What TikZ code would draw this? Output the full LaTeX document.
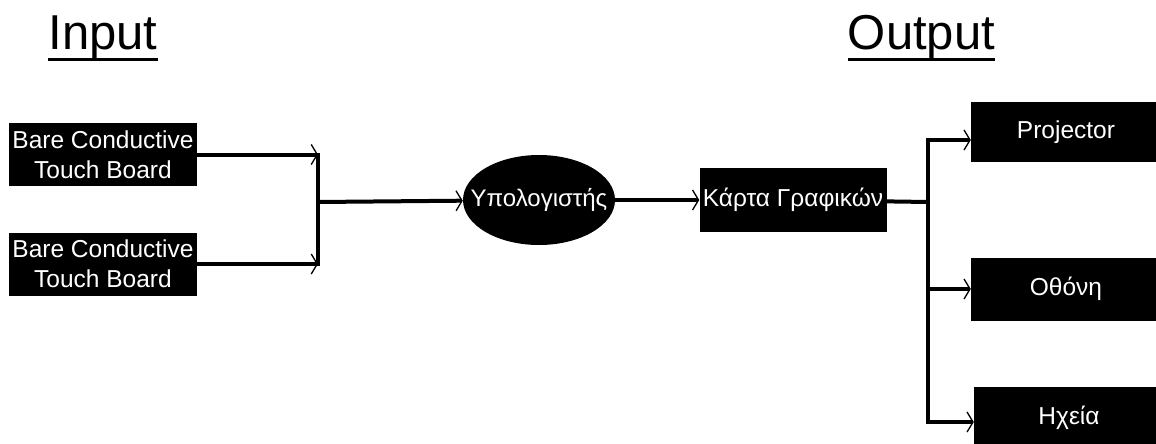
\documentclass[tikz,border=0pt]{standalone}
\usepackage{fontspec}
\setmainfont{Liberation Sans}
\usetikzlibrary{arrows.meta, positioning, shapes.geometric}

\begin{document}
\begin{tikzpicture}[
  x=1pt, y=-1pt,
  box/.style={fill=black, text=white, inner sep=0pt,
              minimum width=188pt, minimum height=63pt,
              font=\fontsize{24.5}{30}\selectfont, align=center},
  pcnode/.style={ellipse, fill=black, text=white, inner xsep=-17pt, inner ysep=0pt,
              minimum width=152pt, minimum height=90pt,
              font=\fontsize{24}{30}\selectfont},
  title/.style={inner sep=0pt, anchor=base, font=\fontsize{49}{56}\selectfont},
  uline/.style={line width=3pt},
  wire/.style={line width=4pt},
  arr/.style={wire, -{Straight Barb[length=6pt, width=20pt, line width=1.3pt]}}
]
  \useasboundingbox (0,0) rectangle (1156,444);

  % titles
  \node[title] (inp) at (103,50) {Input};
  \node[title] (outp) at (921.5,50) {Output};
  \draw[uline] ([yshift=-10pt]inp.base west) -- ([yshift=-10pt]inp.base east);
  \draw[uline] ([yshift=-10pt]outp.base west) -- ([yshift=-10pt]outp.base east);

  % input side
  \node[box] (tb1) at (103,154.5) {Bare Conductive\\Touch Board};
  \node[box] (tb2) at (103,264) {Bare Conductive\\Touch Board};
  \coordinate (jin) at (318,202);

  \node[pcnode] (pc) at (539,200) {Υπολογιστής};
  \node[box, minimum width=187pt, minimum height=64pt] (gpu) at (793,200) {Κάρτα Γραφικών};
  \coordinate (jout) at (928,202);

  % output side
  \node[box, minimum width=190pt, minimum height=60pt] (proj) at (1066,132) {Projector};
  \node[box, minimum width=190pt] (scr) at (1066,289) {Οθόνη};
  \node[box, minimum width=190pt] (spk) at (1069,418) {Ηχεία};

  \draw[arr] (tb1.east) -- (tb1.east -| jin);
  \draw[arr] (tb2.east) -- (tb2.east -| jin);
  \draw[wire, line cap=rect] (tb1.east -| jin) -- (tb2.east -| jin);
  \draw[arr] (jin) -- (pc);
  \draw[arr] (pc) -- (gpu);
  \draw[wire] (gpu) -- (jout);

  \draw[wire, line cap=rect] ([yshift=-8pt]proj.west -| jout) -- ([yshift=-4pt]spk.west -| jout);
  \draw[arr] ([yshift=-8pt]proj.west -| jout) -- ([yshift=-8pt]proj.west);
  \draw[arr] (scr.west -| jout) -- (scr.west);
  \draw[arr] ([yshift=-4pt]spk.west -| jout) -- ([yshift=-4pt]spk.west);
\end{tikzpicture}
\end{document}
